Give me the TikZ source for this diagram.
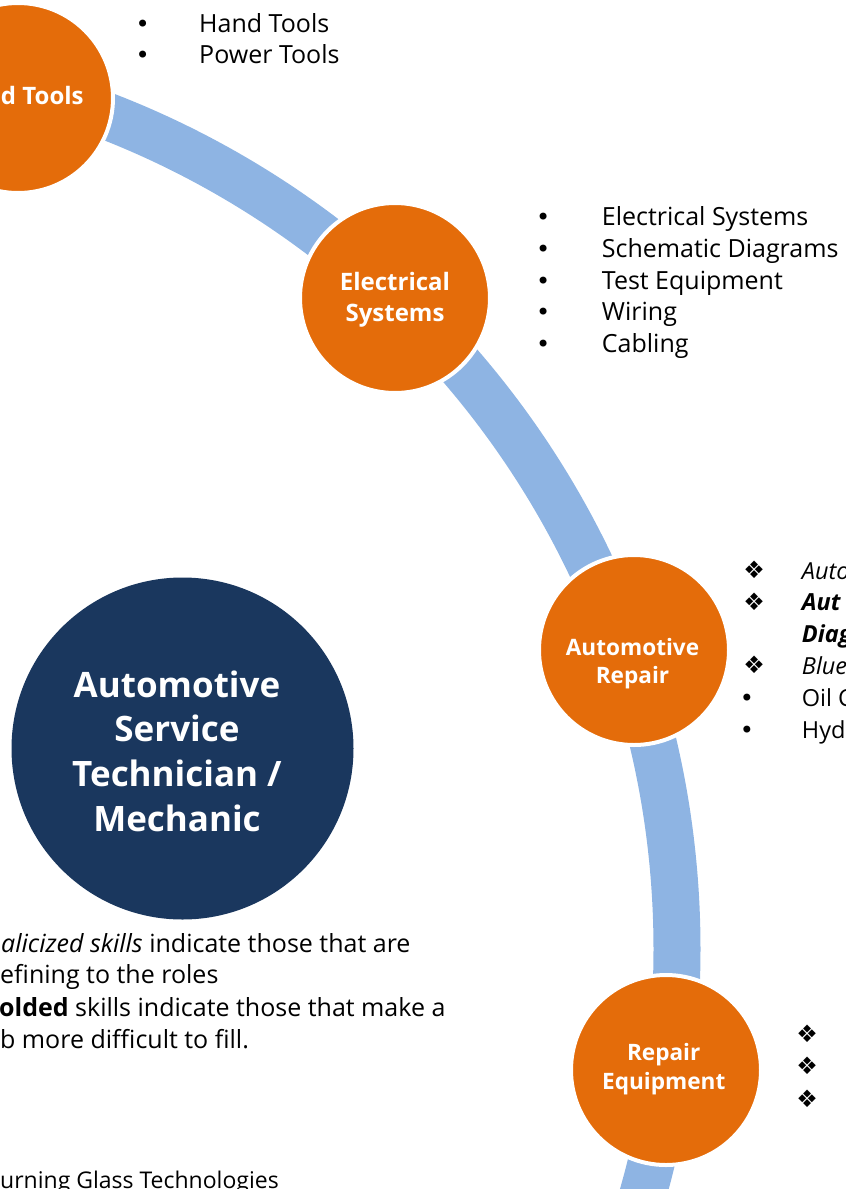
\documentclass[tikz,border=0pt]{standalone}
\usepackage{fontspec}
\setmainfont{Open Sans}
\newfontfamily\symfont{DejaVu Sans}
\definecolor{orng}{HTML}{E46C0A}
\definecolor{bandblue}{HTML}{8EB4E3}
\definecolor{navy}{HTML}{1A375E}
\begin{document}
\begin{tikzpicture}[x=1pt,y=-1pt,
  skill/.style={circle, fill=orng, draw=white, line width=4pt, minimum size=190pt, inner sep=0pt},
  hub/.style={circle, fill=navy, draw=none, minimum size=342pt, inner sep=0pt},
  clab/.style={anchor=base, inner sep=0pt, text=white, font=\fontsize{24}{30}\selectfont\bfseries},
  clabs/.style={anchor=base, inner sep=0pt, text=white, font=\fontsize{22.6}{28}\selectfont\bfseries},
  hlab/.style={anchor=base, inner sep=0pt, text=white, font=\fontsize{35}{44}\selectfont\bfseries},
  itm/.style={anchor=base west, inner sep=0pt, font=\fontsize{25}{32}\selectfont},
  itms/.style={anchor=base west, inner sep=0pt, font=\fontsize{23.5}{32}\selectfont},
  bul/.style={anchor=base, inner sep=0pt, font=\fontsize{24}{32}\symfont},
  dia/.style={anchor=center, inner sep=0pt, font=\fontsize{24}{28}\symfont},
  note/.style={anchor=base west, inner sep=0pt, font=\fontsize{25}{32}\selectfont},
]
\useasboundingbox (0,0) rectangle (846,1189);
\clip (0,0) rectangle (846,1189);
% band
\coordinate (bc) at (-216,949);
\draw[bandblue, line width=47pt] (bc) circle[radius=893];
% circles
\node[skill] (ht) at (18,98) {};
\node[skill] (es) at (395,298) {};
\node[skill] (ar) at (634,650) {};
\node[skill] (re) at (666,1070) {};
\node[hub] (ast) at (182.5,748.5) {};
% circle labels
\node[clab] (ht1) at (18,104) {Hand Tools};
\node[clab] (es1) at (395,290.7) {Electrical};
\node[clab] (es2) at (395,321.7) {Systems};
\node[clabs] (ar1) at (632.5,655) {Automotive};
\node[clabs] (ar2) at (632.5,683.3) {Repair};
\node[clabs] (re1) at (663.7,1060.7) {Repair};
\node[clabs] (re2) at (663.7,1089.3) {Equipment};
\node[hlab] (as1) at (177,697.3) {Automotive};
\node[hlab] (as2) at (177,741.7) {Service};
\node[hlab] (as3) at (177,786.7) {Technician /};
\node[hlab] (as4) at (177,831.7) {Mechanic};
% tools list
\node[bul] (tb1) at (142.7,32.3) {•};
\node[itm] (tt1) at (199,32.3) {Hand Tools};
\node[bul] (tb2) at (142.7,63.8) {•};
\node[itm] (tt2) at (199,63.8) {Power Tools};
% electrical list
\foreach \t [count=\i] in {Electrical Systems, Schematic Diagrams, Test Equipment, Wiring, Cabling}{
  \node[bul] (eb\i) at (543.3,{225.7+31.7*(\i-1)}) {•};
  \node[itm] (et\i) at (601.7,{225.7+31.7*(\i-1)}) {\t};
}
% automotive repair list
\node[dia] (ab1) at (754,569.5) {❖};
\node[itms] (at1) at (801.7,579) {\itshape Auto};
\node[dia] (ab2) at (754,601.3) {❖};
\node[itms] (at2) at (801.7,610.8) {\bfseries\itshape Aut};
\node[itms] (at3) at (801.7,642.6) {\bfseries\itshape Diag};
\node[dia] (ab4) at (754,664.9) {❖};
\node[itms] (at4) at (801.7,674.4) {\itshape Blue};
\node[bul] (ab5) at (747,706.2) {•};
\node[itms] (at5) at (801.7,706.2) {Oil C};
\node[bul] (ab6) at (747,738) {•};
\node[itms] (at6) at (801.7,738) {Hyd};
% repair equipment list
\node[dia] (rb1) at (807,1033.3) {❖};
\node[dia] (rb2) at (807,1066) {❖};
\node[dia] (rb3) at (807,1098.3) {❖};
% legend
\node[note] (n1) at (1,952.3) {\itshape alicized skills\upshape{} indicate those that are};
\node[note] (n2) at (0,983.8) {efining to the roles};
\node[note] (n3) at (-1,1016) {\bfseries olded\mdseries{} skills indicate those that make a};
\node[note] (n4) at (0,1048.3) {b more difficult to fill.};
\node[anchor=base west, inner sep=0pt, font=\fontsize{23}{28}\selectfont] (src) at (0,1188) {urning Glass Technologies};
\end{tikzpicture}
\end{document}
